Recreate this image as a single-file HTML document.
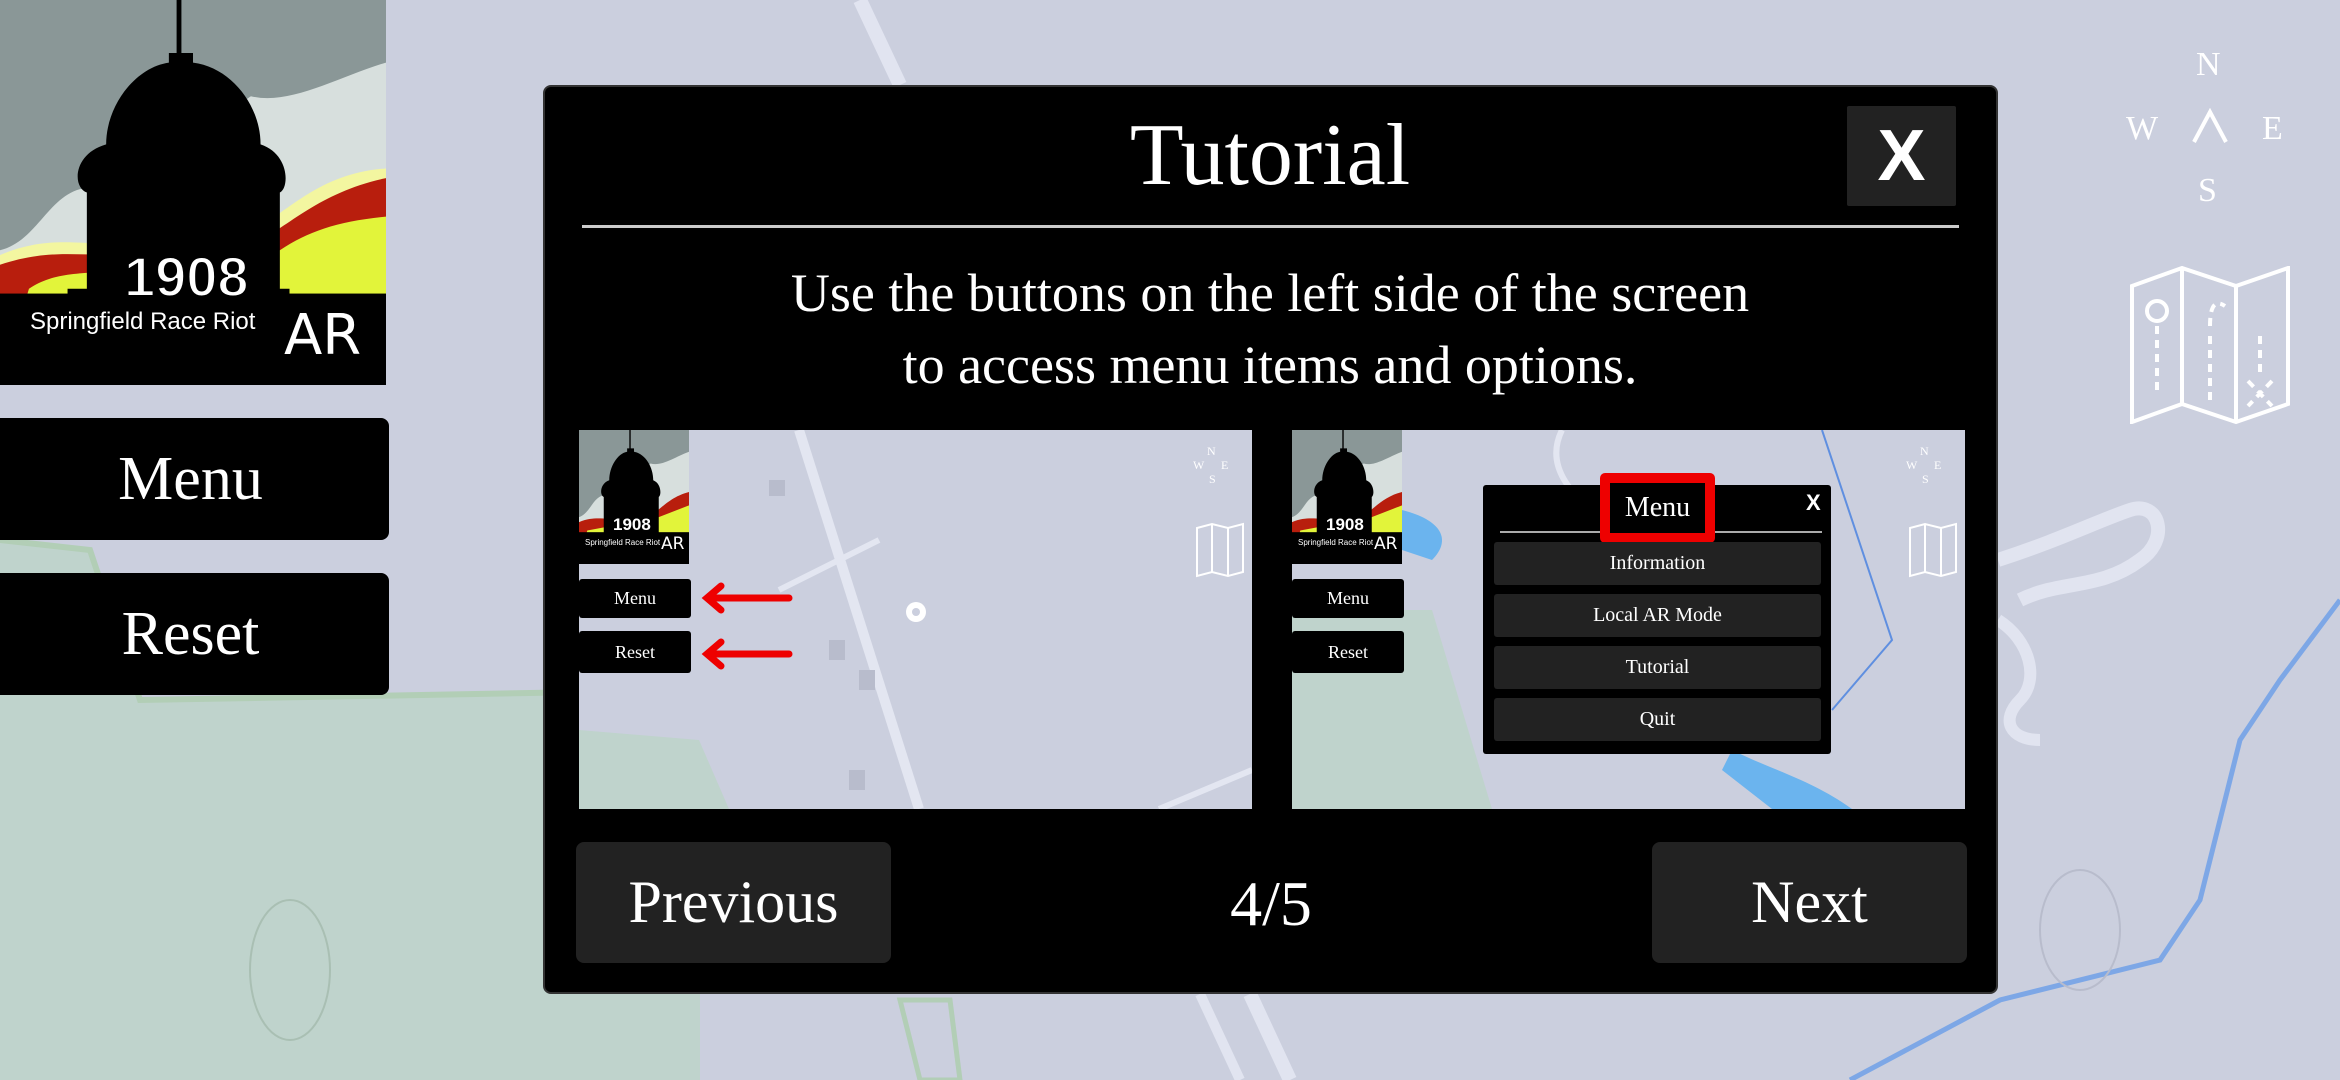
<!DOCTYPE html>
<html><head><meta charset="utf-8"><style>
*{margin:0;padding:0;box-sizing:border-box}
body{width:2340px;height:1080px;overflow:hidden;background:#cbcfde;position:relative;font-family:"Liberation Serif",serif;color:#fff}
.a{position:absolute}
.btn{position:absolute;background:#000;border-radius:8px;display:flex;align-items:center;justify-content:center;color:#fff}
.dk{background:#222}
.c{display:flex;align-items:center;justify-content:center;text-align:center}
</style></head><body>
<svg class="a" style="left:0;top:0" width="2340" height="1080">
<path d="M0 540 L90 550 L140 700 L700 690 L700 1080 L0 1080Z" fill="#bfd3cc"/>
<path d="M0 540 L90 550 L140 700 L700 690" stroke="#b2ceb6" stroke-width="6" fill="none"/>
<path d="M860 0 L900 85 M1250 994 L1290 1080" stroke="#e1e4f0" stroke-width="14"/>
<path d="M1200 994 L1240 1080" stroke="#e1e4f0" stroke-width="10"/>
<path d="M1998 560 C2060 540 2100 520 2130 510 C2160 500 2170 540 2140 560 C2100 590 2060 580 2020 600" stroke="#e1e4f0" stroke-width="14" fill="none"/>
<path d="M1998 620 C2030 640 2040 680 2020 700 C2000 720 2010 740 2040 740" stroke="#e1e4f0" stroke-width="12" fill="none"/>
<path d="M2340 600 L2280 680 L2240 740 L2220 820 L2200 900 L2160 960 L2000 1000 L1850 1080" stroke="#7da7e6" stroke-width="5" fill="none"/>
<path d="M900 1000 L920 1080 L960 1080 L950 1000Z" fill="none" stroke="#b2ceb6" stroke-width="5"/>
<ellipse cx="290" cy="970" rx="40" ry="70" fill="none" stroke="#a9bfb3" stroke-width="2"/>
<ellipse cx="2080" cy="930" rx="40" ry="60" fill="none" stroke="#b8bccc" stroke-width="2"/>
</svg>
<div class="a" style="left:2196px;top:46px;font-size:34px;color:#fff">N</div>
<div class="a" style="left:2126px;top:110px;font-size:34px;color:#fff">W</div>
<div class="a" style="left:2262px;top:110px;font-size:34px;color:#fff">E</div>
<div class="a" style="left:2198px;top:172px;font-size:34px;color:#fff">S</div>
<svg class="a" style="left:2190px;top:108px" width="40" height="36"><path d="M4 34 L20 4 L36 34" stroke="#fff" stroke-width="4" fill="none"/></svg>
<svg class="a" style="left:2130px;top:266px" width="160" height="158"><g stroke="#fff" stroke-width="4" fill="none"><path d="M2 20 L52 2 L106 20 L158 2 L158 138 L106 156 L52 138 L2 156Z M52 2 L52 138 M106 20 L106 156"/><circle cx="27" cy="45" r="10"/><path d="M27 60 L27 130 M80 60 Q80 30 95 40 M80 70 L80 140 M130 70 L130 110 M118 115 L142 140 M142 115 L118 140" stroke-dasharray="8 6"/></g></svg>
<svg class="a" style="left:0;top:0" width="386" height="385" viewBox="0 0 400 400" preserveAspectRatio="none">
<rect width="400" height="400" fill="#8a9797"/>
<path d="M260 100 C300 110 350 80 400 65 L400 400 L0 400 L0 260 C40 250 50 200 90 195 C150 190 200 140 260 100Z" fill="#d7dfdd"/>
<path d="M0 265 C60 240 90 260 150 250 L260 240 C300 220 330 180 400 175 L400 400 L0 400Z" fill="#f3f6a0"/>
<path d="M0 275 C60 255 90 270 150 262 L260 255 C300 235 330 200 400 185 L400 400 L0 400Z" fill="#b81e0d"/>
<path d="M30 300 C60 280 90 285 150 280 L290 260 C320 240 350 230 400 225 L400 400 L0 400Z" fill="#e2f43a"/>
<rect x="0" y="305" width="400" height="95" fill="#000"/>
<path d="M183 0 h5 v55 h12 v10 C240 70 270 110 270 150 C300 160 300 195 290 200 L290 300 L300 300 L300 310 L70 310 L70 300 L90 300 L90 200 C75 195 75 160 110 150 C110 110 140 70 175 65 L175 55 h8Z" fill="#000"/>
</svg>
<div class="a" style="left:124px;top:244px;font-family:'Liberation Sans',sans-serif;font-weight:bold;font-size:56px;color:#fff;-webkit-text-stroke:2px #000">1908</div>
<div class="a" style="left:30px;top:308px;font-family:'Liberation Sans',sans-serif;font-size:24px;color:#fff">Springfield Race Riot</div>
<div class="a" style="left:284px;top:303px;font-family:'DejaVu Sans',sans-serif;font-size:56px;color:#fff">AR</div>
<div class="btn" style="left:-8px;top:418px;width:397px;height:122px;font-size:62px">Menu</div>
<div class="btn" style="left:-8px;top:573px;width:397px;height:122px;font-size:62px">Reset</div>
<div class="a" style="left:543px;top:85px;width:1455px;height:909px;background:#000;border-radius:8px;border:2px solid #333"></div>
<div class="a c" style="left:900px;top:100px;width:740px;height:110px;font-size:88px">Tutorial</div>
<div class="btn dk" style="left:1847px;top:106px;width:109px;height:100px;border-radius:2px;font-family:'Liberation Sans',sans-serif;font-weight:bold;font-size:72px">X</div>
<div class="a" style="left:582px;top:225px;width:1377px;height:3px;background:#ccc"></div>
<div class="a c" style="left:600px;top:254px;width:1340px;height:150px;font-size:54px;line-height:72px">Use the buttons on the left side of the screen<br>to access menu items and options.</div>
<div class="btn dk" style="left:576px;top:842px;width:315px;height:121px;font-size:60px">Previous</div>
<div class="btn dk" style="left:1652px;top:842px;width:315px;height:121px;font-size:60px">Next</div>
<div class="a c" style="left:1171px;top:862px;width:200px;height:84px;font-size:64px">4/5</div>
<div class="a" style="left:579px;top:430px;width:673px;height:379px;background:#cbcfde;overflow:hidden">
<svg class="a" style="left:0;top:0" width="673" height="379"><path d="M0 300 L120 310 L150 379 L0 379Z" fill="#bfd3cc"/><path d="M220 0 L340 379" stroke="#e3e6f1" stroke-width="10"/><path d="M200 160 L300 110" stroke="#e3e6f1" stroke-width="6"/><path d="M580 379 L673 340" stroke="#e3e6f1" stroke-width="6"/><circle cx="337" cy="182" r="10" fill="#fff"/><circle cx="337" cy="182" r="4" fill="#cbcfde"/><rect x="190" y="50" width="16" height="16" fill="#b8bccc"/><rect x="250" y="210" width="16" height="20" fill="#b8bccc"/><rect x="280" y="240" width="16" height="20" fill="#b8bccc"/><rect x="270" y="340" width="16" height="20" fill="#b8bccc"/></svg>
<svg class="a" style="left:0;top:0" width="110" height="134" viewBox="0 0 400 400" preserveAspectRatio="none"><rect width="400" height="400" fill="#8a9797"/><path d="M260 100 C300 110 350 80 400 65 L400 400 L0 400 L0 260 C40 250 50 200 90 195 C150 190 200 140 260 100Z" fill="#d7dfdd"/><path d="M0 275 C60 255 90 270 150 262 L260 255 C300 235 330 200 400 185 L400 400 L0 400Z" fill="#b81e0d"/><path d="M30 300 L290 260 L400 225 L400 400 L0 400Z" fill="#e2f43a"/><rect y="305" width="400" height="95"/><path d="M183 0 h5 v55 h12 v10 C240 70 270 110 270 150 C300 160 300 195 290 200 L290 310 L90 310 L90 200 C75 195 75 160 110 150 C110 110 140 70 175 65 L175 55 h8Z"/></svg>
<div class="a" style="left:34px;top:85px;font-size:17px;font-weight:bold;font-family:'Liberation Sans',sans-serif">1908</div>
<div class="a" style="left:6px;top:108px;font-size:8px;font-family:'Liberation Sans',sans-serif">Springfield Race Riot</div>
<div class="a" style="left:82px;top:104px;font-size:17px;font-family:'DejaVu Sans',sans-serif">AR</div>
<div class="btn" style="left:0;top:149px;width:112px;height:39px;border-radius:3px;font-size:18px">Menu</div>
<div class="btn" style="left:0;top:201px;width:112px;height:42px;border-radius:3px;font-size:18px">Reset</div>
<svg class="a" style="left:120px;top:150px" width="100" height="90"><g stroke="#e00" stroke-width="7" fill="none" stroke-linecap="round"><path d="M8 18 L90 18 M22 6 L8 18 L22 30"/><path d="M8 74 L90 74 M22 62 L8 74 L22 86"/></g></svg>
<div class="a" style="left:628px;top:14px;font-size:12px">N</div><div class="a" style="left:614px;top:28px;font-size:12px">W</div><div class="a" style="left:642px;top:28px;font-size:12px">E</div><div class="a" style="left:630px;top:42px;font-size:12px">S</div>
<svg class="a" style="left:616px;top:92px" width="50" height="56"><path d="M2 6 L17 2 L33 6 L48 2 L48 50 L33 54 L17 50 L2 54Z M17 2 V50 M33 6 V54" stroke="#fff" stroke-width="2" fill="none"/></svg>
</div>
<div class="a" style="left:1292px;top:430px;width:673px;height:379px;background:#cbcfde;overflow:hidden">
<svg class="a" style="left:0;top:0" width="673" height="379"><path d="M0 180 L140 180 L200 379 L0 379Z" fill="#bfd3cc"/><path d="M110 80 C150 90 160 110 140 130 L110 120Z" fill="#6bb4ee"/><path d="M440 320 C480 340 520 350 560 379 L480 379 L430 340Z" fill="#6bb4ee"/><path d="M530 0 L600 210 L540 280" stroke="#5f8fe0" stroke-width="2" fill="none"/><path d="M270 0 Q250 40 300 80" stroke="#e3e6f1" stroke-width="6" fill="none"/></svg>
<svg class="a" style="left:0;top:0" width="110" height="134" viewBox="0 0 400 400" preserveAspectRatio="none"><rect width="400" height="400" fill="#8a9797"/><path d="M260 100 C300 110 350 80 400 65 L400 400 L0 400 L0 260 C40 250 50 200 90 195 C150 190 200 140 260 100Z" fill="#d7dfdd"/><path d="M0 275 C60 255 90 270 150 262 L260 255 C300 235 330 200 400 185 L400 400 L0 400Z" fill="#b81e0d"/><path d="M30 300 L290 260 L400 225 L400 400 L0 400Z" fill="#e2f43a"/><rect y="305" width="400" height="95"/><path d="M183 0 h5 v55 h12 v10 C240 70 270 110 270 150 C300 160 300 195 290 200 L290 310 L90 310 L90 200 C75 195 75 160 110 150 C110 110 140 70 175 65 L175 55 h8Z"/></svg>
<div class="a" style="left:34px;top:85px;font-size:17px;font-weight:bold;font-family:'Liberation Sans',sans-serif">1908</div>
<div class="a" style="left:6px;top:108px;font-size:8px;font-family:'Liberation Sans',sans-serif">Springfield Race Riot</div>
<div class="a" style="left:82px;top:104px;font-size:17px;font-family:'DejaVu Sans',sans-serif">AR</div>
<div class="btn" style="left:0;top:149px;width:112px;height:39px;border-radius:3px;font-size:18px">Menu</div>
<div class="btn" style="left:0;top:201px;width:112px;height:42px;border-radius:3px;font-size:18px">Reset</div>
<div class="a" style="left:628px;top:14px;font-size:12px">N</div><div class="a" style="left:614px;top:28px;font-size:12px">W</div><div class="a" style="left:642px;top:28px;font-size:12px">E</div><div class="a" style="left:630px;top:42px;font-size:12px">S</div>
<svg class="a" style="left:616px;top:92px" width="50" height="56"><path d="M2 6 L17 2 L33 6 L48 2 L48 50 L33 54 L17 50 L2 54Z M17 2 V50 M33 6 V54" stroke="#fff" stroke-width="2" fill="none"/></svg>
<div class="a" style="left:191px;top:55px;width:348px;height:269px;background:#000;border-radius:3px"></div>
<div class="a" style="left:208px;top:101px;width:322px;height:2px;background:#aaa"></div>
<div class="a" style="left:308px;top:43px;width:115px;height:70px;background:#e00;border-radius:5px"></div>
<div class="a c" style="left:318px;top:53px;width:95px;height:50px;background:#000;font-size:28px">Menu</div>
<div class="a" style="left:514px;top:60px;font-family:'Liberation Sans',sans-serif;font-weight:bold;font-size:22px">X</div>
<div class="btn dk" style="left:202px;top:112px;width:327px;height:43px;border-radius:3px;font-size:20px">Information</div>
<div class="btn dk" style="left:202px;top:164px;width:327px;height:43px;border-radius:3px;font-size:20px">Local AR Mode</div>
<div class="btn dk" style="left:202px;top:216px;width:327px;height:43px;border-radius:3px;font-size:20px">Tutorial</div>
<div class="btn dk" style="left:202px;top:268px;width:327px;height:43px;border-radius:3px;font-size:20px">Quit</div>
</div>
</body></html>
